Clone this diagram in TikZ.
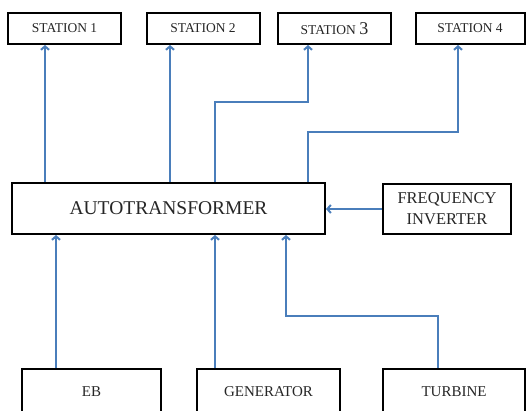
\documentclass[tikz,border=0pt]{standalone}
\usepackage{fontspec}
\setmainfont{Liberation Serif}
\usetikzlibrary{arrows.meta}
\definecolor{linkblue}{HTML}{4A7EBB}
\tikzset{
  blockbox/.style={draw=black, line width=2pt, fill=white, inner sep=0pt, text=black!85},
  stationbox/.style={blockbox, minimum width=113pt, minimum height=31pt, font=\fontsize{13.5}{15}\selectfont},
  sourcebox/.style={blockbox, minimum height=46pt, font=\fontsize{15}{17}\selectfont},
  feed/.style={draw=linkblue, line width=1.8pt, -{Straight Barb[length=3.5pt,width=8pt,line width=2pt]}}
}
\begin{document}
\begin{tikzpicture}[x=1pt,y=-1pt]
  \useasboundingbox (0,0) rectangle (527,411);

  % station outputs along the top
  \node[stationbox] (s1) at (64.5,28.5) {STATION 1};
  \node[stationbox] (s2) at (203,28.5) {STATION 2};
  \node[stationbox] (s3) at (334.5,28.5) {STATION {\fontsize{18}{18}\selectfont 3}};
  \node[stationbox, minimum width=109pt] (s4) at (470,28.5) {STATION 4};

  % central block and inverter
  \node[blockbox, minimum width=313pt, minimum height=51pt, font=\fontsize{19.5}{21}\selectfont] (auto) at (168.5,208.5) {AUTOTRANSFORMER};
  \node[blockbox, minimum width=128pt, minimum height=50pt, align=center, font=\fontsize{16.5}{21}\selectfont] (fi) at (447,209) {FREQUENCY\\INVERTER};

  % power sources along the bottom
  \node[sourcebox, minimum width=139pt] (eb) at (91.5,392) {EB};
  \node[sourcebox, minimum width=143pt] (gen) at (268.5,392) {GENERATOR};
  \node[sourcebox, minimum width=142pt] (tur) at (454,392) {TURBINE};

  % columns and bends of the connectors
  \coordinate (c1) at (45,0);
  \coordinate (c2) at (170,0);
  \coordinate (c3) at (215,0);
  \coordinate (c4) at (308,0);
  \coordinate (k3) at (308,102);
  \coordinate (k4) at (458,132);
  \coordinate (ceb) at (56,0);
  \coordinate (kt) at (286,316);
  \coordinate (ct) at (438,0);

  % autotransformer to stations
  \draw[feed] (auto.north -| c1) -- (s1.south -| c1);
  \draw[feed] (auto.north -| c2) -- (s2.south -| c2);
  \draw[feed] (auto.north -| c3) |- (k3) -- (s3.south -| k3);
  \draw[feed] (auto.north -| c4) |- (k4) -- (s4.south -| k4);

  % inverter into autotransformer
  \draw[feed] (fi.west) -- (auto.east |- fi.west);

  % sources into autotransformer
  \draw[feed] (eb.north -| ceb) -- (auto.south -| ceb);
  \draw[feed] (gen.north -| c3) -- (auto.south -| c3);
  \draw[feed] (tur.north -| ct) |- (kt) -- (auto.south -| kt);
\end{tikzpicture}
\end{document}
